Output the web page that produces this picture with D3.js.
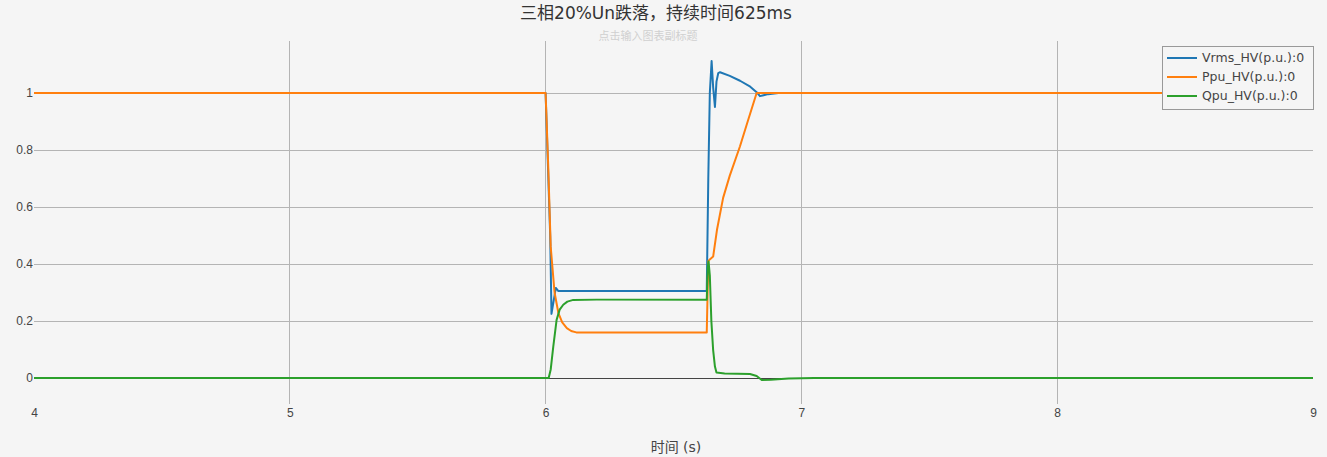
<!DOCTYPE html>
<html><head><meta charset="utf-8">
<script src="https://cdn.jsdelivr.net/npm/d3@7/dist/d3.min.js"></script>
<style>
html,body{margin:0;padding:0;background:#f5f5f5;}
svg{display:block;font-family:"DejaVu Sans","Noto Sans CJK SC",sans-serif;}
</style></head><body>
<svg id="chart" width="1327" height="457"></svg>
<script>
const title = "三相20%Un跌落，持续时间625ms";
const subtitle = "点击输入图表副标题";
const xTitle = "时间 (s)";
const seriesNames = ["Vrms_HV(p.u.):0","Ppu_HV(p.u.):0","Qpu_HV(p.u.):0"];
const seriesColors = ["#1f77b4","#ff7f0e","#2ca02c"];
const xTicks = [4,5,6,7,8,9];
const yTicks = [0,0.2,0.4,0.6,0.8,1];

const vrmsT = [4,6.0,6.018,6.023,6.04,6.05,6.63,6.636,6.642,6.649,6.655,6.662,6.668,6.675,6.682,6.72,6.76,6.80,6.825,6.838,6.87,6.91,9];
const vrmsV = [1,1,0.5,0.225,0.316,0.305,0.305,0.7,1.0,1.112,1.02,0.951,1.04,1.07,1.073,1.06,1.043,1.022,1.003,0.989,0.996,1.0,1.0];

const ppuT = [4,6.0,6.01,6.02,6.035,6.05,6.065,6.083,6.1,6.12,6.63,6.636,6.643,6.655,6.67,6.694,6.72,6.76,6.79,6.825,9];
const ppuV = [1,1,0.75,0.46,0.3,0.228,0.195,0.175,0.165,0.16,0.16,0.41,0.417,0.426,0.52,0.632,0.71,0.813,0.9,1.0,1.0];

const qpuT = [4,6.012,6.02,6.03,6.043,6.055,6.069,6.085,6.108,6.2,6.63,6.634,6.637,6.642,6.648,6.655,6.662,6.668,6.7,6.799,6.825,6.845,6.88,6.95,7.05,9];
const qpuV = [0,0,0.03,0.11,0.204,0.24,0.257,0.268,0.274,0.275,0.275,0.39,0.409,0.36,0.2,0.098,0.04,0.019,0.016,0.014,0.007,-0.007,-0.006,-0.002,0,0];

const series = [
  {name:seriesNames[0], color:seriesColors[0], t:vrmsT, v:vrmsV},
  {name:seriesNames[1], color:seriesColors[1], t:ppuT, v:ppuV},
  {name:seriesNames[2], color:seriesColors[2], t:qpuT, v:qpuV}
];

const W = 1327, H = 457;
const m = {left:34, right:14, top:41, bottom:53};
const svg = d3.select("#chart");
const x = d3.scaleLinear().domain([4,9]).range([m.left, W-m.right]);
const y = d3.scaleLinear().domain([-26/285, 337/285]).range([H-m.bottom, m.top]);

svg.append("rect").attr("width",W).attr("height",H).attr("fill","#f5f5f5");

// grid
const g = svg.append("g").attr("shape-rendering","crispEdges");
g.selectAll("line.vg").data(xTicks.filter(d=>d>4&&d<9)).join("line")
  .attr("x1",d=>x(d)).attr("x2",d=>x(d)).attr("y1",m.top).attr("y2",H-m.bottom)
  .attr("stroke","#b4b4b4").attr("stroke-width",1);
g.selectAll("line.hg").data(yTicks.filter(d=>d!==0)).join("line")
  .attr("x1",m.left).attr("x2",W-m.right).attr("y1",d=>y(d)).attr("y2",d=>y(d))
  .attr("stroke","#b4b4b4").attr("stroke-width",1);
g.append("line").attr("x1",m.left).attr("x2",W-m.right).attr("y1",y(0)).attr("y2",y(0))
  .attr("stroke","#444").attr("stroke-width",1);

// axes tick labels
const xAxis = d3.axisBottom(x).tickValues(xTicks).tickSize(0).tickPadding(0).tickFormat(d3.format("d"));
const xa = svg.append("g").attr("transform",`translate(0,${H-m.bottom+4})`).call(xAxis);
xa.select(".domain").remove();
xa.selectAll("text").attr("fill","#444").attr("font-size",12).attr("dy","0.71em");

const yAxis = d3.axisLeft(y).tickValues(yTicks).tickSize(0).tickPadding(0).tickFormat(d=>d3.format("")(d));
const ya = svg.append("g").attr("transform",`translate(${m.left-1},0)`).call(yAxis);
ya.select(".domain").remove();
ya.selectAll("text").attr("fill","#444").attr("font-size",12);

// lines
const line = d3.line().x(d=>x(d[0])).y(d=>y(d[1]));
svg.append("clipPath").attr("id","clip").append("rect")
  .attr("x",m.left).attr("y",m.top).attr("width",W-m.left-m.right).attr("height",H-m.top-m.bottom);
const lg = svg.append("g").attr("clip-path","url(#clip)");
series.forEach(s=>{
  lg.append("path").datum(s.t.map((t,i)=>[t,s.v[i]]))
    .attr("d",line).attr("fill","none").attr("stroke",s.color).attr("stroke-width",2)
    .attr("stroke-linejoin","round");
});

// title
svg.append("text").attr("x",656).attr("y",19).attr("text-anchor","middle")
  .attr("font-size",17).attr("fill","#333").text(title);
svg.append("text").attr("x",648).attr("y",40).attr("text-anchor","middle")
  .attr("font-size",11).attr("fill","#d0d0d0").text(subtitle);
svg.append("text").attr("x",676).attr("y",452).attr("text-anchor","middle")
  .attr("font-size",14).attr("fill","#444").text(xTitle);

// legend
const lgx = 1162, lgy = 46, lgw = 151, lgh = 63;
const leg = svg.append("g");
leg.append("rect").attr("x",lgx+0.5).attr("y",lgy+0.5).attr("width",lgw).attr("height",lgh)
  .attr("fill","#f5f5f5").attr("stroke","#999").attr("stroke-width",1);
series.forEach((s,i)=>{
  const yy = lgy + 12 + i*19;
  leg.append("line").attr("x1",lgx+5).attr("x2",lgx+35).attr("y1",yy).attr("y2",yy)
    .attr("stroke",s.color).attr("stroke-width",2);
  leg.append("text").attr("x",lgx+40).attr("y",yy).attr("dy","0.35em")
    .attr("font-size",12.5).attr("fill","#444").text(s.name);
});
</script>
</body></html>
